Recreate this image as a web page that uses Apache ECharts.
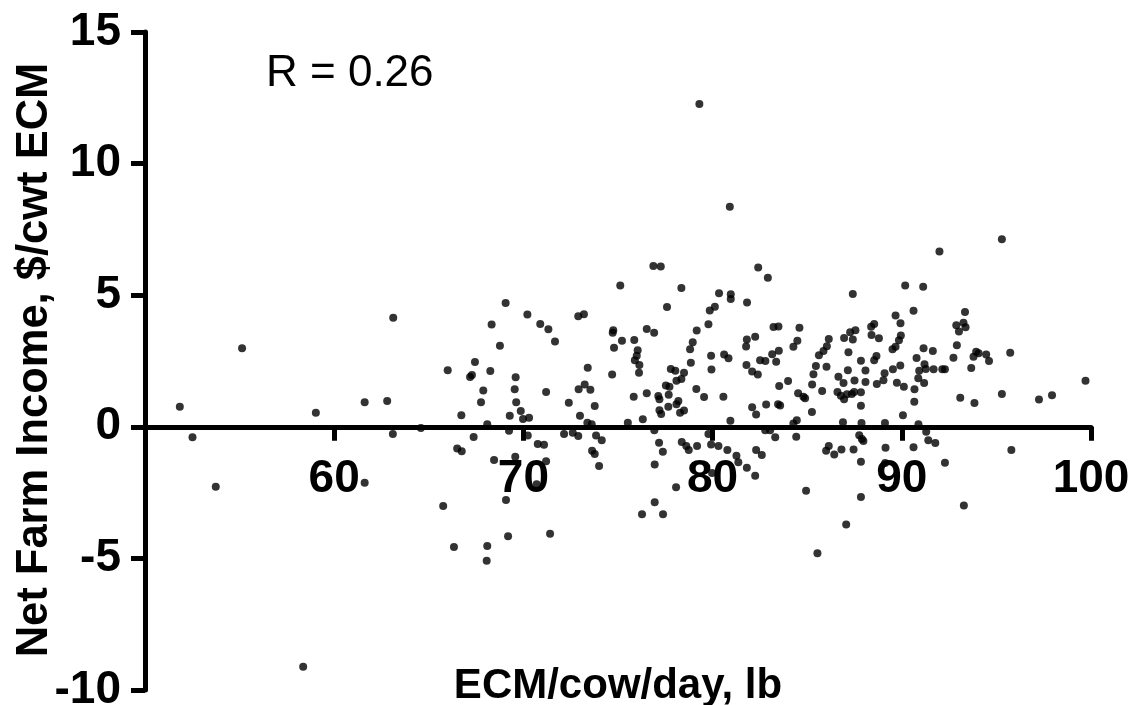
<!DOCTYPE html>
<html>
<head>
<meta charset="utf-8">
<script src="https://cdn.jsdelivr.net/npm/echarts@6/dist/echarts.min.js"></script>
<style>
html,body{margin:0;padding:0;background:#fff;}
#chart{width:1134px;height:705px;}
</style>
</head>
<body>
<div id="chart"></div>
<script>
// ECM/cow/day (lb)
const ecm = [63.12,55.13,66.0,51.84,59.03,61.61,62.80,52.51,63.10,64.58,53.74,61.61,65.76,66.33,58.36,
69.06,70.21,72.90,73.20,68.32,70.89,71.32,71.67,68.76,67.44,68.25,67.28,67.18,73.40,69.59,67.88,69.54,71.20,72.92,73.24,73.54,67.76,69.62,72.40,73.77,66.72,69.28,69.86,69.98,70.30,72.99,68.09,73.38,73.61,69.24,70.23,67.37,72.15,72.61,72.90,73.84,74.14,66.50,66.74,70.76,71.09,73.63,73.77,68.45,69.57,71.20,74.00,70.70,69.08,68.09,69.19,71.41,68.06,
76.87,77.26,82.41,75.12,78.35,80.34,80.96,80.96,81.82,77.59,79.85,80.12,79.78,79.16,74.75,74.72,76.52,76.91,75.21,75.86,74.79,78.95,78.81,81.81,82.25,81.77,76.04,75.99,75.89,76.13,79.92,80.61,80.84,78.85,82.51,74.69,76.11,77.79,78.03,78.49,78.35,78.09,79.94,81.79,82.09,82.39,77.53,77.72,79.14,75.83,76.52,77.13,77.19,77.68,79.55,80.57,78.19,78.09,77.66,77.19,77.28,78.49,78.28,82.09,82.30,76.31,75.52,80.94,76.92,79.78,77.17,77.37,78.37,78.61,78.74,79.18,79.92,80.31,80.78,81.26,81.36,81.81,82.25,82.30,76.94,78.07,76.94,76.27,77.38,79.97,
82.92,90.18,87.41,89.67,83.22,83.48,84.59,88.54,88.38,89.93,87.27,87.55,87.41,86.95,88.40,88.79,89.95,89.85,89.67,89.51,86.14,86.04,85.86,85.62,84.48,84.27,87.18,83.50,83.15,83.36,82.79,88.66,88.54,87.84,85.46,85.33,86.02,87.15,88.08,89.09,89.03,89.53,89.92,86.65,86.92,87.50,88.08,88.68,89.74,90.11,83.99,83.52,85.26,85.79,84.52,84.80,84.89,86.60,86.78,86.95,87.10,87.36,87.48,87.84,87.84,82.83,83.46,83.57,85.25,90.06,84.45,84.27,86.89,87.87,89.11,82.78,83.04,83.31,84.42,87.75,87.89,87.97,82.60,86.14,86.00,86.43,86.81,87.45,89.14,87.84,84.94,87.84,87.06,85.54,89.12,
95.29,91.99,91.13,90.62,93.34,92.88,93.26,93.37,93.02,92.91,91.15,91.64,93.93,94.06,93.79,94.46,94.61,95.73,92.73,90.78,91.20,91.27,90.92,91.68,92.14,92.28,93.67,90.87,91.18,90.67,90.66,99.71,95.29,93.09,93.84,97.25,97.94,90.88,91.29,91.40,91.77,90.62,92.28,95.79,93.28,
79.30,80.91];

// Net farm income ($/cwt ECM)
const nfi = [4.14,2.98,2.15,0.76,0.53,0.93,0.98,-0.40,-0.27,-0.05,-2.28,-2.13,-3.01,-4.57,-9.12,
4.70,4.27,4.20,4.28,3.89,3.91,3.71,3.24,3.08,2.46,2.12,1.97,1.89,2.24,1.88,1.38,1.43,1.32,1.43,1.61,1.41,0.93,0.93,0.91,0.79,0.44,0.42,0.60,0.30,0.34,0.42,0.10,0.15,0.10,-0.15,-0.33,-0.39,-0.27,-0.23,-0.35,-0.33,-0.51,-0.82,-0.93,-0.65,-0.68,-0.91,-1.03,-1.26,-1.14,-1.31,-1.49,-2.18,-2.78,-4.53,-4.16,-4.06,-5.09,
6.11,6.09,6.05,5.37,5.27,5.07,5.04,4.86,4.72,4.55,4.42,4.56,3.90,3.66,3.67,3.57,3.72,3.57,3.27,3.30,3.00,3.21,2.95,3.32,3.42,3.05,2.91,2.70,2.53,2.35,2.70,2.75,2.60,2.43,2.53,1.99,2.05,2.20,2.13,2.05,1.82,1.75,2.18,2.35,2.10,1.99,1.57,1.52,1.44,1.14,1.27,1.17,1.05,1.22,1.13,1.14,0.98,0.86,0.76,0.63,0.49,0.62,0.53,0.74,0.47,0.29,0.15,0.23,-0.13,-0.27,-0.61,-0.95,-0.58,-0.73,-0.88,-0.73,-0.67,-0.73,-0.88,-1.10,-1.35,-1.56,-1.86,-0.88,-1.43,-2.30,-2.87,-3.32,-3.32,-1.76,
5.66,5.37,5.05,4.23,3.79,3.81,3.76,3.91,3.80,3.93,3.59,3.67,3.32,3.37,3.49,3.36,3.47,3.29,3.04,2.95,3.34,3.06,2.88,2.72,3.27,3.04,2.83,2.89,2.76,2.47,2.50,2.69,2.53,2.51,2.31,2.00,2.28,2.15,2.14,2.03,1.77,2.19,2.33,1.90,1.66,1.76,1.70,1.63,1.67,1.52,1.74,1.55,1.61,1.36,1.27,1.14,1.08,1.32,1.18,1.05,1.24,1.25,1.32,1.31,0.80,0.85,0.86,0.81,0.56,0.44,0.25,0.13,0.17,0.14,0.14,-0.13,-0.13,-0.40,-0.38,-0.32,-0.46,-0.54,-1.07,-0.73,-0.91,-1.05,-0.86,-0.86,-0.80,-1.33,-2.43,-2.67,-3.71,-4.80,-1.38,
7.13,6.66,5.32,4.41,4.36,3.86,3.95,3.78,3.62,3.10,2.98,2.88,2.85,2.79,2.66,2.75,2.50,2.81,2.62,2.61,2.38,2.20,2.13,2.19,2.19,2.19,2.23,1.84,1.66,1.43,0.95,1.75,1.25,1.10,0.90,1.04,1.20,0.10,-0.19,-0.51,-0.62,-0.78,-1.37,-0.88,-2.99,
12.26,8.36];

const xTicks = [50, 60, 70, 80, 90, 100];
const xTickLabels = ['', '60', '70', '80', '90', '100'];
const yTicks = [-10, -5, 0, 5, 10, 15];
const yTickLabels = ['-10', '-5', '0', '5', '10', '15'];
const xTitle = 'ECM/cow/day, lb';
const yTitle = 'Net Farm Income, $/cwt ECM';
const rText = 'R = 0.26';

const points = ecm.map((x, i) => [x, nfi[i]]);
const FONT = '"Liberation Sans", Arial, Helvetica, sans-serif';

const GRID_TOP = 32, GRID_BOTTOM = 15, H = 705;
const plotH = H - GRID_TOP - GRID_BOTTOM;
const yMin = yTicks[0], yMax = yTicks[yTicks.length - 1];
// distance (px) from grid bottom up to the value 0, so the x axis sits on y = 0
const zeroOffset = plotH * (0 - yMin) / (yMax - yMin);

const chart = echarts.init(document.getElementById('chart'), null, {renderer: 'canvas'});
chart.setOption({
  animation: false,
  backgroundColor: '#fff',
  grid: {left: 145, right: 43, top: GRID_TOP, bottom: GRID_BOTTOM, containLabel: false, outerBoundsMode: 'none'},
  xAxis: {
    type: 'value',
    position: 'bottom',
    offset: -zeroOffset,
    min: xTicks[0], max: xTicks[xTicks.length - 1], interval: 10,
    axisLine: {show: true, onZero: false, lineStyle: {color: '#000', width: 5}},
    axisTick: {show: true, length: 14, lineStyle: {color: '#000', width: 5}},
    splitLine: {show: false},
    axisLabel: {
      margin: 30, color: '#000', fontSize: 46, fontWeight: 'bold', fontFamily: FONT,
      hideOverlap: false,
      formatter: v => { const i = xTicks.indexOf(v); return i >= 0 ? xTickLabels[i] : ''; }
    }
  },
  yAxis: {
    type: 'value',
    min: yMin, max: yMax, interval: 5,
    axisLine: {show: true, onZero: false, lineStyle: {color: '#000', width: 5}},
    axisTick: {show: true, length: 14, lineStyle: {color: '#000', width: 5}},
    splitLine: {show: false},
    axisLabel: {
      margin: 24, color: '#000', fontSize: 46, fontWeight: 'bold', fontFamily: FONT,
      formatter: v => { const i = yTicks.indexOf(v); return i >= 0 ? yTickLabels[i] : ''; }
    }
  },
  series: [{
    type: 'scatter',
    data: points,
    symbol: 'circle',
    symbolSize: 8,
    itemStyle: {color: '#000'},
    z: 10
  }],
  graphic: [
    {type: 'text', left: 266, top: 52, style: {text: rText, fill: '#000', font: '44px ' + FONT}},
    {type: 'text', x: 618, y: 686, style: {text: xTitle, fill: '#000', font: 'bold 42px ' + FONT, textAlign: 'center', textVerticalAlign: 'middle'}},
    {type: 'text', x: 35, y: 360, rotation: Math.PI / 2, style: {text: yTitle, fill: '#000', font: 'bold 43.5px ' + FONT, textAlign: 'center', textVerticalAlign: 'middle'}}
  ]
});
</script>
</body>
</html>
